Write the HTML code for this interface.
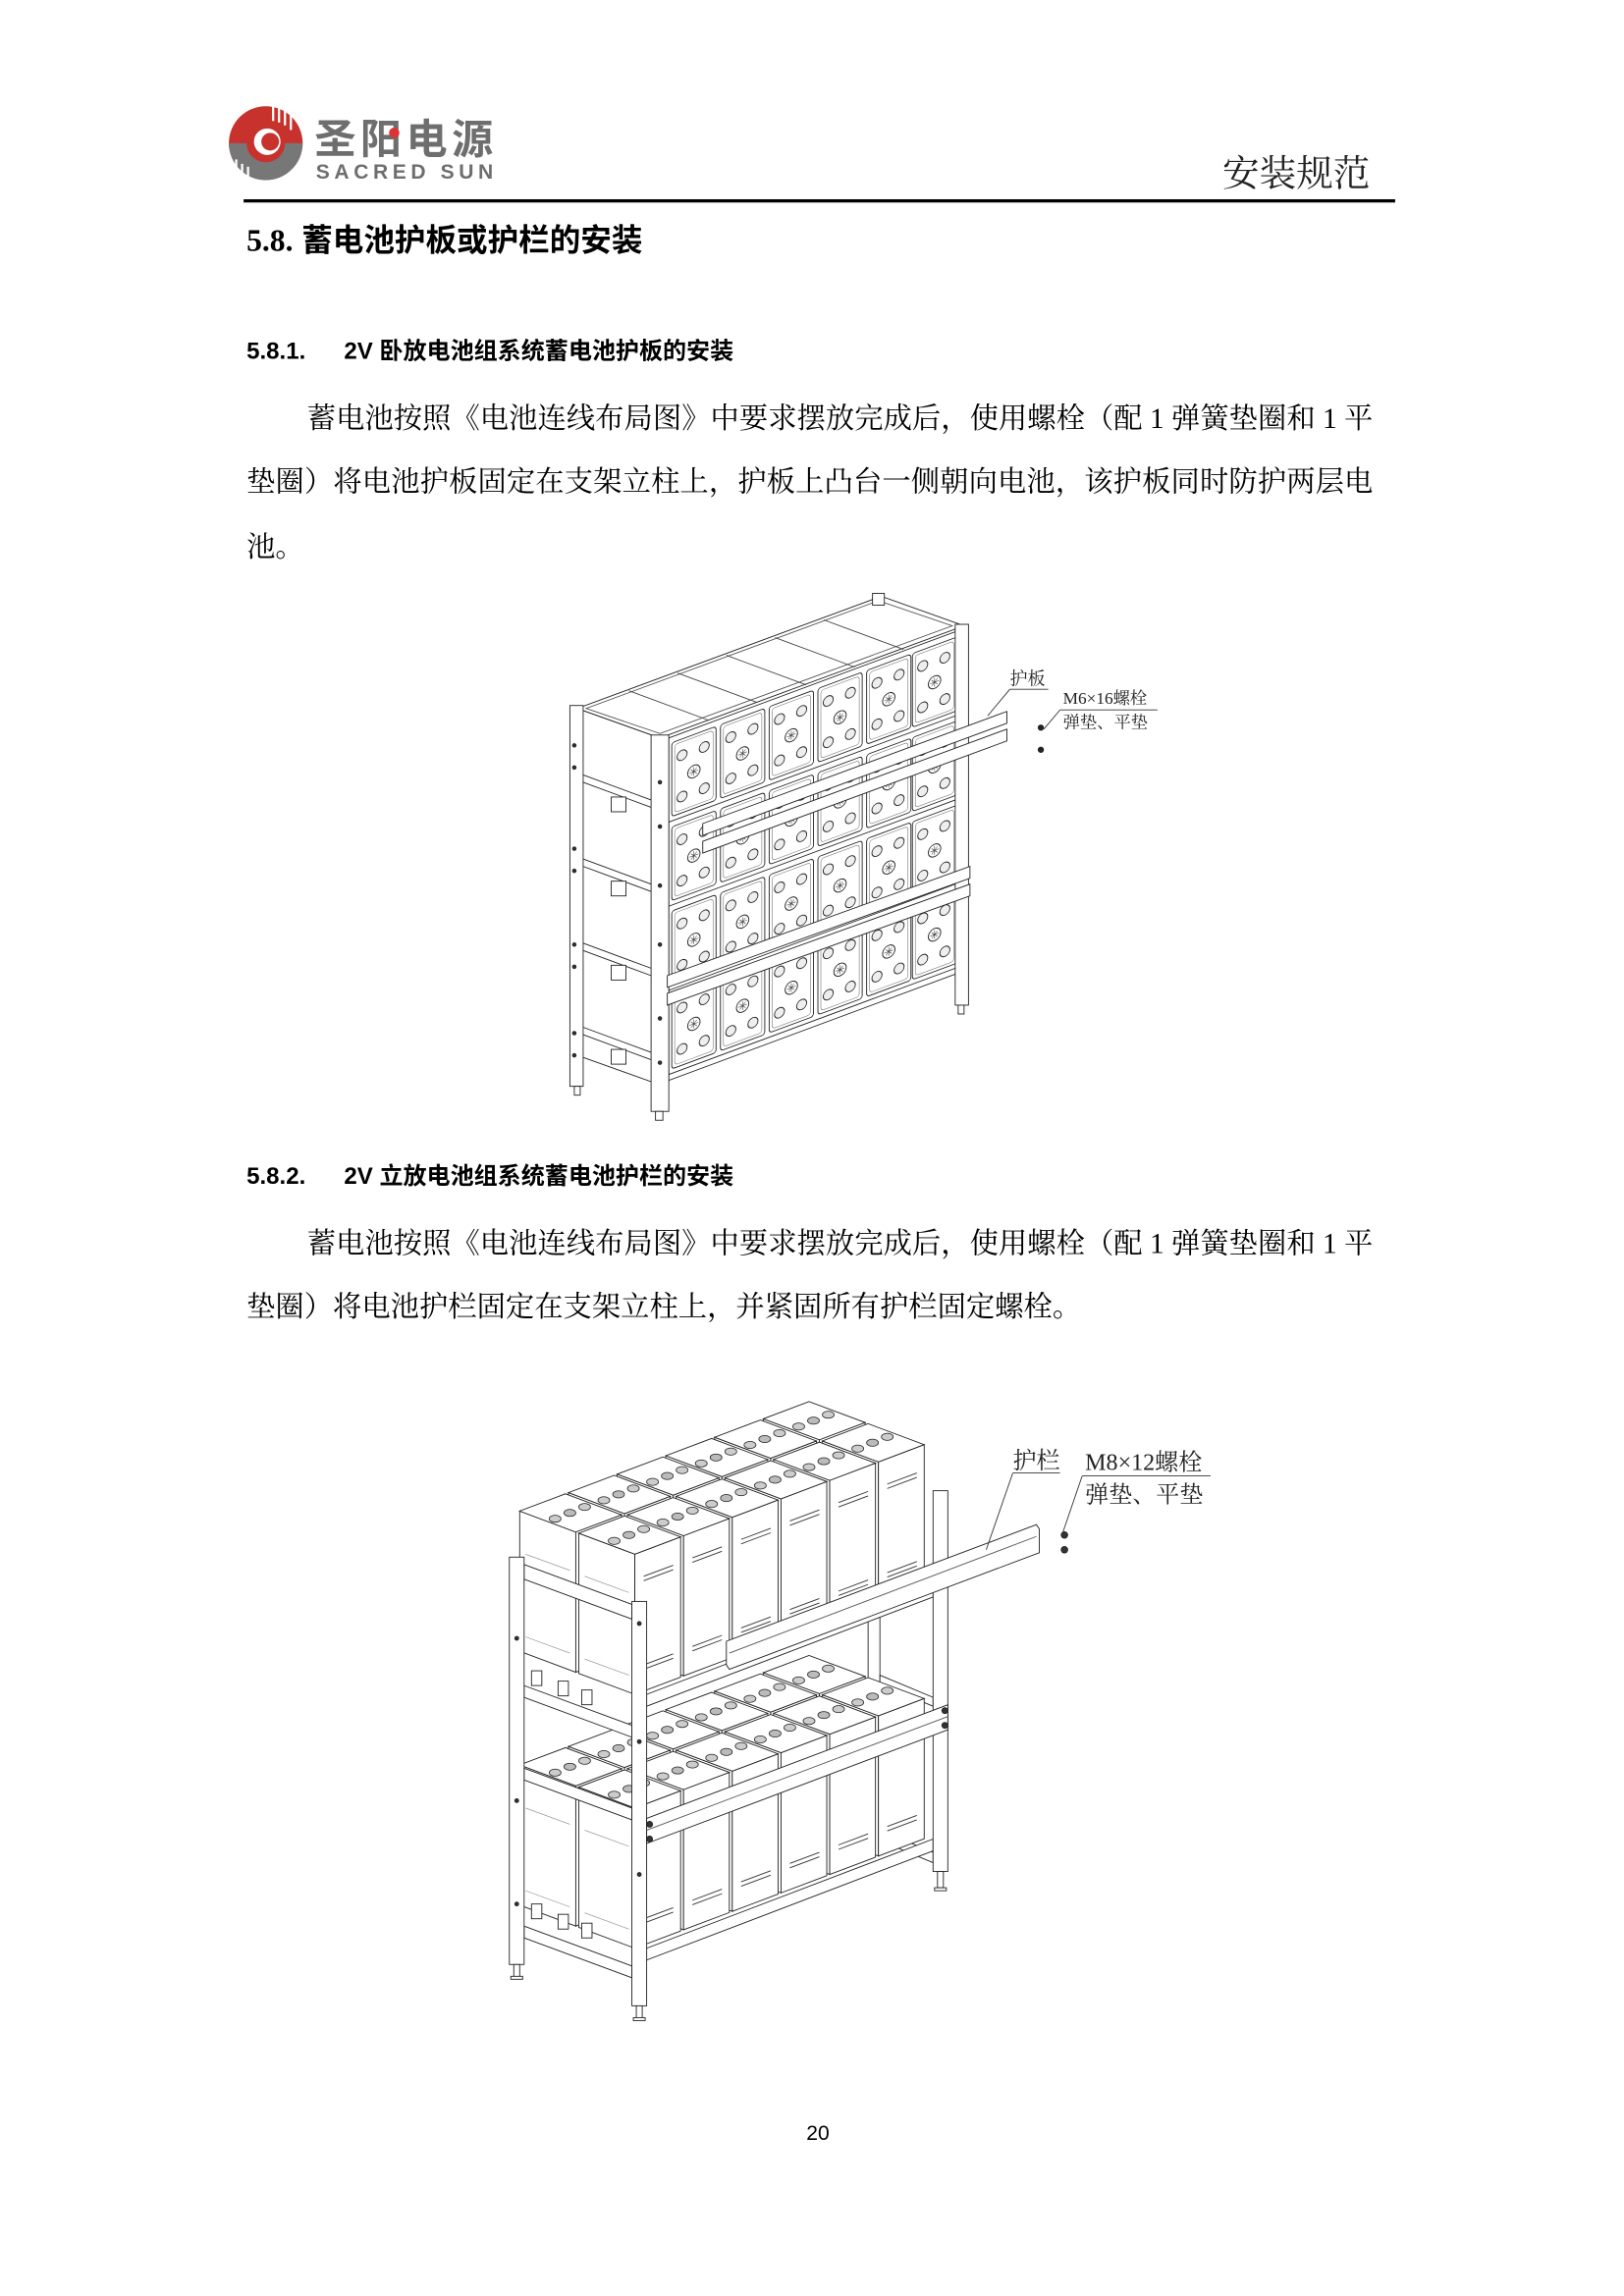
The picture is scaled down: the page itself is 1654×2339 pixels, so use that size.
<!DOCTYPE html>
<html><head><meta charset="utf-8"><style>
html,body{margin:0;padding:0;background:#fff;}
svg{display:block;}
.b{font-family:"Liberation Serif","Noto Serif CJK SC",serif;font-size:19.5px;fill:#000;}
.h{font-family:"Liberation Sans","Noto Sans CJK SC",sans-serif;font-weight:bold;fill:#000;}
.lab{font-family:"Liberation Serif","Noto Serif CJK SC",serif;fill:#222;}
</style></head><body>
<svg width="1654" height="2339" viewBox="0 0 1100 1555.6" xmlns="http://www.w3.org/2000/svg">
<defs>
<g id="bf">
 <rect x="0" y="0" width="30" height="50" rx="2" fill="#fff" stroke="#222" stroke-width="0.6"/>
 <rect x="2" y="2" width="26" height="46" rx="2" fill="none" stroke="#777" stroke-width="0.4"/>
 <circle cx="7" cy="11" r="3.4" fill="#eee" stroke="#222" stroke-width="0.6"/>
 <circle cx="22" cy="11" r="3.4" fill="#eee" stroke="#222" stroke-width="0.6"/>
 <circle cx="7" cy="39" r="3.4" fill="#eee" stroke="#222" stroke-width="0.6"/>
 <circle cx="22" cy="39" r="3.4" fill="#eee" stroke="#222" stroke-width="0.6"/>
 <circle cx="15" cy="25" r="4.2" fill="#fff" stroke="#222" stroke-width="0.6"/>
 <path d="M12 25h6M15 22v6M13 23l4 4M17 23l-4 4" stroke="#444" stroke-width="0.4"/>
</g>
<g id="bt">
 <polygon points="0,0 -38,-14.2 -38,-109.2 0,-95" fill="#fff" stroke="#222" stroke-width="0.6"/>
 <polygon points="0,0 31,-11.7 31,-106.7 0,-95" fill="#fff" stroke="#222" stroke-width="0.6"/>
 <polygon points="0,-95 31,-106.7 -7,-120.9 -38,-109.2" fill="#fff" stroke="#222" stroke-width="0.6"/>
 <ellipse cx="-14" cy="-104" rx="4" ry="2.4" fill="#ccc" stroke="#222" stroke-width="0.5"/>
 <ellipse cx="-4" cy="-108" rx="4" ry="2.4" fill="#bbb" stroke="#222" stroke-width="0.5"/>
 <ellipse cx="6" cy="-112" rx="4" ry="2.4" fill="#ccc" stroke="#222" stroke-width="0.5"/>
 <path d="M6,-80 L26,-87.5 M6,-77 L26,-84.5 M6,-20 L26,-27.5 M6,-17 L26,-24.5" stroke="#333" stroke-width="0.6"/>
 <path d="M-34,-24 L-4,-13 M-34,-80 L-4,-69" stroke="#888" stroke-width="0.4"/>
</g>
</defs>

<!-- Header -->
<circle cx="180" cy="97" r="25" fill="#c8322d"/>
<path d="M155,97 A25,25 0 0 0 205,97 L193,97 A13,13 0 0 1 167,97 Z" fill="#777"/>
<circle cx="181" cy="96" r="9" fill="#fff"/>
<circle cx="183" cy="96" r="6" fill="#c8322d"/>
<path d="M160 108 l0 12 M164 111 l0 11 M168 113 l0 10 M185 72 l0 10 M189 73 l0 10 M193 75 l0 10 M197 78 l0 10" stroke="#fff" stroke-width="1.5"/>
<text x="213" y="104" font-family="'Noto Sans CJK SC',sans-serif" font-weight="bold" font-size="28" fill="#6e6e6e" textLength="121">圣阳电源</text>
<circle cx="267" cy="90" r="3.5" fill="#d33"/>
<text x="214" y="121" font-family="'Liberation Sans',sans-serif" font-weight="bold" font-size="14" fill="#6e6e6e" textLength="120">SACRED SUN</text>
<text x="928" y="126" text-anchor="end" font-family="'Noto Serif CJK SC',serif" font-size="25" fill="#222">安装规范</text>
<rect x="165" y="135" width="780" height="2.2" fill="#000"/>

<text x="167" y="170" class="h" font-size="21"><tspan font-family="'Liberation Serif',serif">5.8.</tspan> 蓄电池护板或护栏的安装</text>
<text x="167" y="243" class="h" font-size="16">5.8.1.<tspan x="233">2V 卧放电池组系统蓄电池护板的安装</tspan></text>
<text x="208" y="290" class="b" textLength="722" lengthAdjust="spacing">蓄电池按照《电池连线布局图》中要求摆放完成后，使用螺栓（配 1 弹簧垫圈和 1 平</text>
<text x="167" y="333" class="b" textLength="763" lengthAdjust="spacing">垫圈）将电池护板固定在支架立柱上，护板上凸台一侧朝向电池，该护板同时防护两层电</text>
<text x="167" y="377" class="b">池。</text>

<!-- Diagram 1 -->
<g stroke="#222" stroke-width="0.6" fill="#fff">
 <!-- left side shelves -->
 <g>
  <polygon points="391,480 447,500 447,735 391,715" fill="#fff"/>
  <path d="M395,525 L441,542 M395,530 L441,547 M395,582 L441,599 M395,587 L441,604 M395,639 L441,656 M395,644 L441,661 M395,696 L441,713 M395,701 L441,718" />
  <rect x="414" y="540" width="10" height="10"/><rect x="414" y="597" width="10" height="10"/><rect x="414" y="654" width="10" height="10"/><rect x="414" y="711" width="10" height="10"/>
 </g>
 <!-- top -->
 <polygon points="391,480 447,500 653,424 597,404"/>
 <polygon points="397,480 447,497 645,424 595,407" fill="none" stroke="#555"/>
 <path d="M480,488 L426,468 M513,476 L459,456 M546,464 L492,444 M579,452 L525,432 M612,440 L558,420" stroke="#444"/>
 <!-- battery faces -->
 <g transform="matrix(1,-0.371,0,1,453,500)">
  <rect x="0" y="0" width="196" height="232" fill="#fff"/>
  <use href="#bf" x="2" y="4"/><use href="#bf" x="35" y="4"/><use href="#bf" x="68" y="4"/><use href="#bf" x="101" y="4"/><use href="#bf" x="134" y="4"/><use href="#bf" x="165" y="4"/>
  <use href="#bf" x="2" y="61"/><use href="#bf" x="35" y="61"/><use href="#bf" x="68" y="61"/><use href="#bf" x="101" y="61"/><use href="#bf" x="134" y="61"/><use href="#bf" x="165" y="61"/>
  <use href="#bf" x="2" y="118"/><use href="#bf" x="35" y="118"/><use href="#bf" x="68" y="118"/><use href="#bf" x="101" y="118"/><use href="#bf" x="134" y="118"/><use href="#bf" x="165" y="118"/>
  <use href="#bf" x="2" y="175"/><use href="#bf" x="35" y="175"/><use href="#bf" x="68" y="175"/><use href="#bf" x="101" y="175"/><use href="#bf" x="134" y="175"/><use href="#bf" x="165" y="175"/>
  <path d="M0,57 H196 M0,114 H196 M0,171 H196 M0,228 H196" stroke="#222"/>
 </g>
 <!-- posts -->
 <rect x="386" y="478" width="9" height="258"/><rect x="389" y="736" width="4" height="6"/>
 <rect x="441" y="498" width="12" height="255"/><rect x="444" y="753" width="5" height="6"/>
 <rect x="647" y="423" width="9" height="258"/><rect x="649" y="681" width="4" height="6"/>
 <rect x="591" y="402" width="8" height="8"/>
 <!-- guard bars upper (loose) -->
 <polygon points="476,558 682,482 682,490 476,566"/>
 <polygon points="476,570 682,494 682,502 476,578"/>
 <!-- guard bars lower (mounted) -->
 <polygon points="452,661 657,587 657,595 452,669"/>
 <polygon points="452,673 657,599 657,607 452,681"/>
 <g fill="#333"><circle cx="389" cy="505" r="1.2"/><circle cx="389" cy="520" r="1.2"/><circle cx="389" cy="575" r="1.2"/><circle cx="389" cy="590" r="1.2"/><circle cx="389" cy="640" r="1.2"/><circle cx="389" cy="655" r="1.2"/><circle cx="389" cy="700" r="1.2"/><circle cx="389" cy="715" r="1.2"/>
 <circle cx="447" cy="530" r="1.2"/><circle cx="447" cy="560" r="1.2"/><circle cx="447" cy="600" r="1.2"/><circle cx="447" cy="640" r="1.2"/><circle cx="447" cy="690" r="1.2"/><circle cx="447" cy="720" r="1.2"/></g>
 <!-- bolts -->
 <circle cx="705" cy="493" r="1.8" fill="#222"/><circle cx="705" cy="508" r="1.8" fill="#222"/>
</g>
<text x="684" y="464" class="lab" font-size="12">护板</text>
<path d="M684,467 H710 M684,467 L669,485" stroke="#333" stroke-width="0.6" fill="none"/>
<text x="720" y="477" class="lab" font-size="11.5">M6×16螺栓</text>
<text x="720" y="493" class="lab" font-size="11.5">弹垫、平垫</text>
<path d="M718,481 H784 M718,481 L707,494" stroke="#333" stroke-width="0.6" fill="none"/>

<text x="167" y="802" class="h" font-size="16">5.8.2.<tspan x="233">2V 立放电池组系统蓄电池护栏的安装</tspan></text>
<text x="208" y="849" class="b" textLength="722" lengthAdjust="spacing">蓄电池按照《电池连线布局图》中要求摆放完成后，使用螺栓（配 1 弹簧垫圈和 1 平</text>
<text x="167" y="892" class="b">垫圈）将电池护栏固定在支架立柱上，并紧固所有护栏固定螺栓。</text>

<!-- Diagram 2 -->
<g stroke="#222" stroke-width="0.6" fill="#fff">
 <!-- back frame -->
 <rect x="588" y="1005" width="8" height="240"/>
 <polygon points="596,1135 632,1150 632,1156 596,1141"/>
 <polygon points="596,1240 632,1255 632,1262 596,1247"/>
 <!-- top shelf batteries: back row then front row -->
 <use href="#bt" x="555" y="1070.5"/><use href="#bt" x="522" y="1083"/><use href="#bt" x="489" y="1095.5"/><use href="#bt" x="456" y="1108"/><use href="#bt" x="423" y="1120.5"/><use href="#bt" x="390" y="1133"/>
 <use href="#bt" x="595" y="1085.5"/><use href="#bt" x="562" y="1098"/><use href="#bt" x="529" y="1110.5"/><use href="#bt" x="496" y="1123"/><use href="#bt" x="463" y="1135.5"/><use href="#bt" x="430" y="1148"/>
 <!-- top shelf beam -->
 <polygon points="438,1148 632,1074 632,1082 438,1156"/>
 <!-- bottom shelf batteries -->
 <use href="#bt" x="555" y="1242.5"/><use href="#bt" x="522" y="1255"/><use href="#bt" x="489" y="1267.5"/><use href="#bt" x="456" y="1280"/><use href="#bt" x="423" y="1292.5"/><use href="#bt" x="390" y="1305"/>
 <use href="#bt" x="595" y="1257.5"/><use href="#bt" x="562" y="1270"/><use href="#bt" x="529" y="1282.5"/><use href="#bt" x="496" y="1295"/><use href="#bt" x="463" y="1307.5"/><use href="#bt" x="430" y="1320"/>
 <polygon points="438,1320 632,1246 632,1254 438,1328"/>
 <!-- left side frame -->
 <polygon points="355,1060 428,1087 428,1097 355,1070"/>
 <polygon points="355,1142 428,1169 428,1177 355,1150"/>
 <polygon points="355,1198 428,1225 428,1233 355,1206"/>
 <polygon points="355,1305 428,1332 428,1340 355,1313"/>
 <rect x="345" y="1055" width="10" height="276"/><rect x="348" y="1331" width="4" height="9"/><rect x="346" y="1339" width="8" height="2"/>
 <rect x="428" y="1085" width="10" height="274"/><rect x="431" y="1359" width="4" height="9"/><rect x="429" y="1367" width="8" height="2"/>
 <rect x="632" y="1010" width="10" height="258"/><rect x="635" y="1268" width="4" height="11"/><rect x="633" y="1279" width="8" height="2"/>
 <!-- connectors on left -->
 <rect x="360" y="1132" width="7" height="10"/><rect x="378" y="1139" width="7" height="10"/><rect x="394" y="1145" width="7" height="10"/>
 <rect x="360" y="1290" width="7" height="10"/><rect x="378" y="1297" width="7" height="10"/><rect x="394" y="1303" width="7" height="10"/>
 <!-- mounted guard rail -->
 <polygon points="438,1232 642,1155 642,1172 438,1249"/>
 <path d="M438,1240 L642,1163" stroke="#555"/>
 <circle cx="440" cy="1236" r="2" fill="#333"/><circle cx="440" cy="1246" r="2" fill="#333"/>
 <circle cx="640" cy="1159" r="2" fill="#333"/><circle cx="640" cy="1169" r="2" fill="#333"/>
 <!-- loose guard rail -->
 <polygon points="492,1112 702,1033 704,1036 704,1052 494,1131 492,1128"/>
 <path d="M494,1120 L702,1041" stroke="#555"/>
 <circle cx="721" cy="1040" r="2.2" fill="#333"/><circle cx="721" cy="1050" r="2.2" fill="#333"/>
 <g fill="#333"><circle cx="350" cy="1110" r="1.3"/><circle cx="350" cy="1220" r="1.3"/><circle cx="350" cy="1290" r="1.3"/><circle cx="433" cy="1100" r="1.3"/><circle cx="433" cy="1180" r="1.3"/><circle cx="433" cy="1270" r="1.3"/></g>
</g>
<text x="686" y="995" class="lab" font-size="16">护栏</text>
<path d="M686,998 H718 M686,998 L668,1050" stroke="#333" stroke-width="0.6" fill="none"/>
<text x="735" y="996" class="lab" font-size="16">M8×12螺栓</text>
<text x="735" y="1018" class="lab" font-size="16">弹垫、平垫</text>
<path d="M733,1000 H820 M733,1000 L720,1038" stroke="#333" stroke-width="0.6" fill="none"/>

<text x="554" y="1450" text-anchor="middle" font-family="'Liberation Sans',sans-serif" font-size="14" fill="#000">20</text>
</svg>
</body></html>
